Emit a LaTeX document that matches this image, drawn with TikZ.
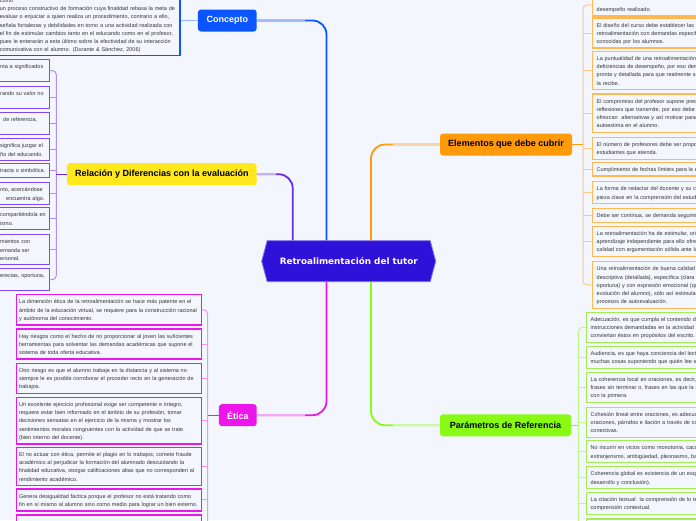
\documentclass[tikz,border=0pt]{standalone}
\usepackage{fontspec}
\setmainfont{Liberation Sans}
\newfontfamily\rootfont{DejaVu Sans}
\usetikzlibrary{shapes.symbols}

\definecolor{paper}{HTML}{F3F6FD}
\definecolor{ink}{HTML}{353535}
\definecolor{rootblue}{HTML}{2E12DA}
\definecolor{conblue}{HTML}{0B55FF}
\definecolor{relpurple}{HTML}{6A2AF0}
\definecolor{relyellow}{HTML}{FFE81C}
\definecolor{etmag}{HTML}{EC16EC}
\definecolor{elorange}{HTML}{FF9A0A}
\definecolor{pagreen}{HTML}{88FA14}
\definecolor{paline}{HTML}{A3EC55}

\tikzset{
  topic/.style={rounded corners=3pt, minimum height=22pt, inner xsep=8pt, font=\fontsize{9}{10}\selectfont\bfseries},
  leafbase/.style={draw, fill=paper, line width=1.4pt, align=left, inner ysep=3.5pt, text=ink,
    font=\fontsize{5.5}{8.2}\selectfont,
    execute at begin node={\rule{0pt}{5.6pt}}, execute at end node={\rule[-1pt]{0pt}{1pt}}},
  conleaf/.style={leafbase, draw=conblue, text width=176pt, inner xsep=4.1pt, inner ysep=2.5pt},
  relleaf/.style={leafbase, draw=relpurple!85!white, text width=47.5pt, inner xsep=2pt, anchor=north west},
  etleaf/.style={leafbase, draw=etmag, text width=180pt, inner xsep=2.35pt, anchor=north west},
  elleaf/.style={leafbase, draw=elorange!70!white, text width=200pt, inner xsep=4.3pt, anchor=north west},
  paleaf/.style={leafbase, draw=paline, text width=200pt, inner xsep=4.5pt, anchor=north west},
  wire/.style={line width=1.8pt, rounded corners=14pt},
  twig/.style={line width=1pt, rounded corners=4pt}
}

\begin{document}
\begin{tikzpicture}[x=1pt,y=-1pt]
\useasboundingbox (0,0) rectangle (696,520);
\clip (0,0) rectangle (696,520);
\fill[paper] (0,0) rectangle (696,520);

% spines
\coordinate (conspine) at (326.5,0);
\coordinate (relspine) at (292.7,0);
\coordinate (elspine) at (371,0);
\coordinate (conbend) at (305,0);
\coordinate (relbend) at (276,0);
\coordinate (etbend) at (305,0);
\coordinate (elbend) at (393,0);
\coordinate (relx) at (56.3,0);
\coordinate (etx) at (207.5,0);
\coordinate (orx) at (583,0);
\coordinate (grx) at (578.3,0);

% centre and topics
\node[signal, signal to=east and west, signal pointer angle=150, fill=rootblue, draw=rootblue!60!white,
  line width=0.8pt, minimum width=174pt, minimum height=41pt, text=white,
  font=\rootfont\fontsize{8.8}{10}\selectfont\bfseries] (root) at (348.7,261.2) {Retroalimentación del tutor};
\node[topic, fill=conblue, text=white, minimum width=58.7pt] (concept) at (227.3,20.5) {Concepto};
\node[topic, fill=relyellow, text=black, minimum width=189.7pt] (relation) at (161.8,174.2) {Relación y Diferencias con la evaluación};
\node[topic, fill=etmag, text=white, minimum width=37.7pt] (ethics) at (237.8,415.2) {Ética};
\node[topic, fill=elorange, text=black, minimum width=132pt] (elements) at (506,144.5) {Elementos que debe cubrir};
\node[topic, fill=pagreen, text=black, minimum width=131pt] (params) at (505.5,425.3) {Parámetros de Referencia};

% main wires
\draw[wire, conblue] (concept.east) -| (root.north -| conspine);
\draw[wire, conblue!35!paper] (concept.east) -- (concept.east -| conbend);
\draw[wire, relpurple] (relation.east) -| (root.north -| relspine);
\draw[wire, relpurple!35!paper] (relation.east) -- (relation.east -| relbend);
\draw[wire, etmag] (root.south -| conspine) |- (ethics.east);
\draw[wire, etmag!35!paper] (ethics.east) -- (ethics.east -| etbend);
\draw[wire, elorange] (root.north -| elspine) |- (elements.west);
\draw[wire, elorange!35!paper] (elements.west) -- (elements.west -| elbend);
\draw[wire, pagreen] (root.south -| elspine) |- (params.west);
\draw[wire, pagreen!35!paper] (params.west) -- (params.west -| elbend);

% concepto
\node[conleaf, anchor=south east] (cdef) at (180.6,56) {a la etapa formativa y al desarrollo personal del mismo. Aparece como\\
un proceso constructivo de formación cuya finalidad rebasa la meta de\\
evaluar o enjuiciar a quien realiza un procedimiento, contrario a ello,\\
señala fortalezas y debilidades en torno a una actividad realizada con\\
el fin de estimular cambios tanto en el educando como en el profesor,\\
pues le enterarán a este último sobre la efectividad de su interacción\\
comunicativa con el alumno. (Durante \& Sánchez, 2006)};
\draw[twig, conblue!40!paper] (concept.west -| cdef.east) -- (concept.west);

% relacion y diferencias
\foreach \rtop/\rtext [count=\k] in {
  59/{nta~a~significados\\\mbox{}},
  86/{rando~su~valor~no\\\mbox{}},
  112/{\hspace*{3pt}de~referencia,\\\mbox{}},
  138/{significa~juzgar~el\\ño~del~educando.},
  163/{tracta~o~simbólica.},
  182/{nto,~acercándose\\\hspace*{6pt}encuentra~algo.},
  207/{compartiéndola~en\\ismo.},
  234/{mientos~con\\emanda~ser\\ersonal.},
  268/{erecias,~oportuna,\\\mbox{}}}
  \node[relleaf] (r\k) at (-2.5,\rtop) {\rtext};
\foreach \k in {2,...,8}
  \draw[twig, relpurple!50!paper] (r\k.east) -- (r\k.east -| relx);
\draw[twig, relpurple!50!paper] (r1.east) -| (r5.east -| relx) |- (r9.east);
\draw[twig, relpurple, line width=1.3pt] (relation.west) -- (relation.west -| relx);

% etica
\foreach \etop/\etext [count=\k] in {
  294/{La dimensión ética de la retroalimentación se hace más patente en el\\ámbito de la educación virtual, se requiere para la construcción racional\\y autónoma del conocimiento.},
  328.3/{Hay riesgos como el hecho de no proporcionar al joven las suficientes\\herramientas para solventar las demandas académicas que supone el\\sistema de toda oferta educativa.},
  362.7/{Otro riesgo es que el alumno trabaje en la distancia y al sistema no\\siempre le es posible corroborar el proceder recto en la generación de\\trabajos.},
  396.7/{Un excelente ejercicio profesional exige ser competente e íntegro,\\requiere estar bien informado en el ámbito de su profesión, tomar\\decisiones sensatas en el ejercicio de la misma y mostrar los\\sentimientos morales congruentes con la actividad de que se trate\\(bien interno del docente).},
  446.7/{El no actuar con ética, permite el plagio en lo trabajos; comete fraude\\académico al perjudicar la formación del alumnado descuidando la\\finalidad educativa, otorgar calificaciones altas que no corresponden al\\rendimiento académico.},
  488.3/{Genera desigualdad fáctica porque el profesor no está tratando como\\fin en sí mismo al alumno sino como medio para lograr un bien externo.},
  514.3/{\mbox{}\\\mbox{}}}
  \node[etleaf] (e\k) at (16,\etop) {\etext};
\foreach \k in {2,...,6}
  \draw[twig, etmag!45!paper] (e\k.east) -- (e\k.east -| etx);
\draw[twig, etmag!45!paper] (e1.east) -| (e4.east -| etx) |- (e7.east);
\draw[twig, etmag, line width=1.3pt] (ethics.west) -- (ethics.west -| etx);

% elementos que debe cubrir
\foreach \otop/\otext [count=\k] in {
  -6.8/{\mbox{}\\desempeño realizado.},
  17.3/{El diseño del curso debe establecer las b\\retroalimentación con demandas especifi\\conocidas por los alumnos.},
  50.7/{La puntualidad de una retroalimentación\\deficiencias de desempeño, por eso dem\\pronta y detallada para que realmente sa\\la recibe.},
  93.3/{El compromiso del profesor supone prec\\reflexiones que transmite, por eso debe p\\ofrezcan~ alternativas y así motivar para\\autoestima en el alumno.},
  136.7/{El número de profesores debe ser propo\\estudiantes que atienda.},
  161.7/{Cumplimiento de fechas límites para la e},
  181/{La forma de redactar del docente y su co\\pieza clave en la comprensión del estudi},
  208/{Debe ser continua, se demanda seguimi},
  225.5/{La retroalimentación ha de estimular, orie\\aprendizaje independiente para ello ofrez\\calidad con argumentación sólida ante la},
  261/{Una retroalimentación de buena calidad\\descriptiva (detallada), específica (clara\\oportuna) y con expresión emocional (qu\\evolución del alumno), sólo así estimular\\procesos de autoevaluación.}}
  \node[elleaf] (o\k) at (591.7,\otop) {\otext};
\foreach \k in {2,...,9}
  \draw[twig, elorange!50!paper] (o\k.west) -- (o\k.west -| orx);
\draw[twig, elorange!50!paper] (o1.west) -| (o5.west -| orx) |- (o10.west);
\draw[twig, elorange, line width=1.3pt] (elements.east) -- (elements.east -| orx);

% parametros de referencia
\foreach \ptop/\ptext [count=\k] in {
  311.7/{Adecuación, es que cumpla el contenido de\\instrucciones demandadas en la actividad c\\conviertan éstos en propósitos del escrito.},
  345.7/{Audiencia, es que haya conciencia del lecto\\muchas cosas suponiendo que quién lee sa},
  371.7/{La coherencia local en oraciones, es decir,\\frases sin terminar o, frases en las que la s\\con la primera.},
  406.7/{Cohesión lineal entre oraciones, es adecua\\oraciones, párrafos e ilación a través de co\\conectivas.},
  440/{No incurrir en vicios como monotonía, caco\\extranjerismo, ambigüedad, pleonasmo, ba},
  466/{Coherencia global es existencia de un esqu\\desarrollo y conclusión).},
  491.7/{La citación textual: la comprensión de lo tex\\comprensión contextual.},
  518.3/{\mbox{}\\\mbox{}}}
  \node[paleaf] (p\k) at (585.5,\ptop) {\ptext};
\foreach \k in {2,...,7}
  \draw[twig, pagreen!50!paper] (p\k.west) -- (p\k.west -| grx);
\draw[twig, pagreen!50!paper] (p1.west) -| (p4.west -| grx) |- (p8.west);
\draw[twig, pagreen, line width=1.3pt] (params.east) -- (params.east -| grx);
\end{tikzpicture}
\end{document}
